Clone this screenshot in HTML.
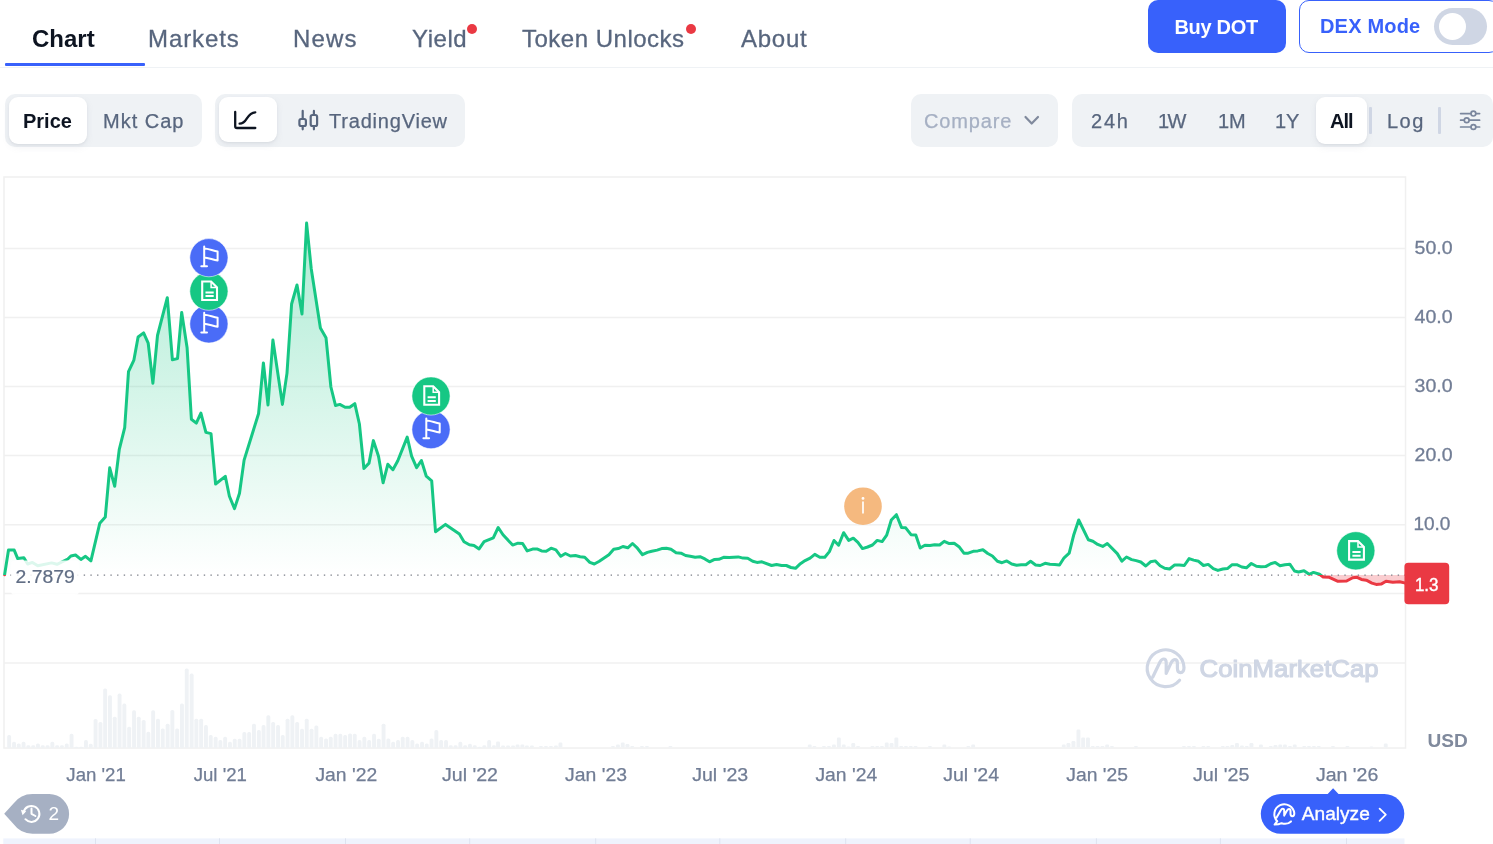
<!DOCTYPE html>
<html lang="en">
<head>
<meta charset="utf-8">
<title>Polkadot (DOT) price chart</title>
<style>
*{box-sizing:border-box;margin:0;padding:0}
html,body{width:1493px;height:844px;overflow:hidden;background:#fff}
body{font-family:"Liberation Sans",sans-serif;color:#0d1421;position:relative}
.abs{position:absolute}
.t{position:absolute;white-space:nowrap;line-height:1}
/* tabs */
.tab{position:absolute;top:27px;font-size:24px;line-height:1;color:#58667e;white-space:nowrap;-webkit-text-stroke:.3px #58667e}
.tab.active{color:#0d1421;font-weight:700;-webkit-text-stroke:0}
.dot{position:absolute;width:10px;height:10px;border-radius:50%;background:#ea3943}
.hline{position:absolute;left:0;top:67px;width:1493px;height:1px;background:#eff2f5}
.uline{position:absolute;left:4.5px;top:63px;width:140.2px;height:3px;background:#3861fb;border-radius:1px}
.btn-buy{position:absolute;left:1148px;top:0;width:138px;height:53px;border-radius:10px;background:#3861fb}
.btn-dex{position:absolute;left:1299px;top:0;width:200px;height:53.2px;border-radius:10px;border:1.5px solid #3861fb;background:#fff}
.toggle{position:absolute;left:1434px;top:8px;width:53px;height:37px;border-radius:19px;background:#cfd6e4}
.knob{position:absolute;left:1438.7px;top:12.7px;width:27.6px;height:27.6px;border-radius:50%;background:#fff}
/* toolbar */
.grp{position:absolute;top:94px;height:53px;border-radius:10px;background:#eff2f5}
.pill{position:absolute;top:97px;height:47px;border-radius:9px;background:#fff;box-shadow:0 1px 2px rgba(128,138,157,.12),0 3px 7px rgba(128,138,157,.12)}
.tb{position:absolute;top:111px;font-size:20px;line-height:1;color:#58667e;white-space:nowrap;-webkit-text-stroke:.25px currentColor}
.tb.sel{color:#0d1421;font-weight:700;-webkit-text-stroke:0}
.vdiv{position:absolute;top:107px;width:2.9px;height:26.6px;background:#cfd6e4;border-radius:1px}
</style>
</head>
<body>
<!-- tabs -->
<div class="tab active" style="left:32px">Chart</div>
<div class="tab" style="left:148px;letter-spacing:.9px">Markets</div>
<div class="tab" style="left:293px;letter-spacing:1.2px">News</div>
<div class="tab" style="left:412px;letter-spacing:.55px">Yield</div>
<div class="dot" style="left:467px;top:24px"></div>
<div class="tab" style="left:522px;letter-spacing:.5px">Token Unlocks</div>
<div class="dot" style="left:686px;top:24px"></div>
<div class="tab" style="left:741px;letter-spacing:.75px">About</div>
<div class="hline"></div>
<div class="uline"></div>
<div class="btn-buy"></div>
<div class="t" style="left:1174.4px;top:17px;font-size:20px;letter-spacing:-.3px;font-weight:700;color:#fff">Buy DOT</div>
<div class="btn-dex"></div>
<div class="t" style="left:1320px;top:16px;font-size:20px;letter-spacing:.18px;font-weight:700;color:#3861fb">DEX Mode</div>
<div class="toggle"></div><div class="knob"></div>

<!-- toolbar -->
<div class="grp" style="left:5px;width:197px"></div>
<div class="pill" style="left:9px;width:78px"></div>
<div class="tb sel" style="left:23px">Price</div>
<div class="tb" style="left:103px;letter-spacing:1px">Mkt Cap</div>

<div class="grp" style="left:215px;width:250px"></div>
<div class="pill" style="left:219px;width:58px;height:45px"></div>
<svg class="abs" style="left:232px;top:108px" width="26" height="24" viewBox="232 108 26 24" fill="none" stroke="#0d1421" stroke-width="2.3" stroke-linecap="round" stroke-linejoin="round">
<path d="M235.2 112V126.2Q235.2 128 237 128H255.3"/><path d="M239.6 123.7C247.8 123.7 246 112.7 255.3 112.3"/>
</svg>
<svg class="abs" style="left:296px;top:108px" width="24" height="24" viewBox="296 108 24 24" fill="none" stroke="#58667e" stroke-width="2.2" stroke-linecap="round" stroke-linejoin="round">
<rect x="299.4" y="119" width="6.5" height="7" rx="1.8"/><path d="M302.7 110.9V119M302.7 126V129.3"/>
<rect x="310.7" y="115" width="6.4" height="11" rx="1.8"/><path d="M313.9 110.9V115M313.9 126V129.3"/>
</svg>
<div class="tb" style="left:329px;letter-spacing:.8px">TradingView</div>

<div class="grp" style="left:911px;width:147px"></div>
<div class="tb" style="left:924px;letter-spacing:.85px;color:#a6b0c3">Compare</div>
<svg class="abs" style="left:1022px;top:112px" width="20" height="16" viewBox="0 0 20 16" fill="none" stroke="#808a9d" stroke-width="2.2" stroke-linecap="round" stroke-linejoin="round"><path d="M3.5 5 L9.7 11.5 L16 5"/></svg>

<div class="grp" style="left:1072px;width:421px"></div>
<div class="tb" style="left:1091px;letter-spacing:1.8px">24h</div>
<div class="tb" style="left:1158px;letter-spacing:-1.5px">1W</div>
<div class="tb" style="left:1218px">1M</div>
<div class="tb" style="left:1275px">1Y</div>
<div class="pill" style="left:1316px;width:51px"></div>
<div class="tb sel" style="left:1330px;letter-spacing:-1px">All</div>
<div class="vdiv" style="left:1369.3px"></div>
<div class="tb" style="left:1387px;letter-spacing:1.5px">Log</div>
<div class="vdiv" style="left:1438px"></div>
<svg class="abs" style="left:1458px;top:108px" width="24" height="24" viewBox="1458 108 24 24" fill="none" stroke="#7a869d" stroke-width="1.7" stroke-linecap="round"><path d="M1460.6 113.6H1470.6M1476.2 113.6H1479.6M1460.6 120.2H1463.9M1469.5 120.2H1479.6M1460.6 127H1470.6M1476.2 127H1479.6"/><circle cx="1473.4" cy="113.6" r="2.4"/><circle cx="1466.7" cy="120.2" r="2.4"/><circle cx="1473.4" cy="127" r="2.4"/></svg>

<!-- chart -->
<svg class="abs" id="chart" style="left:0;top:0" width="1493" height="844" viewBox="0 0 1493 844" font-family="'Liberation Sans',sans-serif">
<defs>
<linearGradient id="gg" gradientUnits="userSpaceOnUse" x1="0" y1="222" x2="0" y2="575.1"><stop offset="0" stop-color="#16c784" stop-opacity=".35"/><stop offset="1" stop-color="#16c784" stop-opacity="0"/></linearGradient>
<clipPath id="up"><rect x="0" y="170" width="1410" height="405.1"/></clipPath>
<clipPath id="dn"><rect x="0" y="575.1" width="1410" height="200"/></clipPath>
</defs>
<g stroke="#f0f0f0" stroke-width="1.5" fill="none">
<path d="M4 248.4H1405.5"/>
<path d="M4 317.4H1405.5"/>
<path d="M4 386.5H1405.5"/>
<path d="M4 455.4H1405.5"/>
<path d="M4 524.7H1405.5"/>
<path d="M4 593.5H1405.5"/>
<path d="M4 663H1405.5"/>
<rect x="4" y="177" width="1401.5" height="571"/>
</g>
<g fill="#eff2f5">
<rect x="7.2" y="735.1" width="3.9" height="12.9" rx="1.6"/>
<rect x="12.1" y="741.8" width="3.9" height="6.2" rx="1.6"/>
<rect x="16.8" y="743.5" width="3.9" height="4.5" rx="1.6"/>
<rect x="21.6" y="741.8" width="3.9" height="6.2" rx="1.6"/>
<rect x="26.4" y="745.2" width="3.9" height="2.8" rx="1.6"/>
<rect x="31.3" y="745.2" width="3.9" height="2.8" rx="1.6"/>
<rect x="36" y="743.5" width="3.9" height="4.5" rx="1.6"/>
<rect x="40.8" y="745.2" width="3.9" height="2.8" rx="1.6"/>
<rect x="45.6" y="745.2" width="3.9" height="2.8" rx="1.6"/>
<rect x="50.4" y="741.8" width="3.9" height="6.2" rx="1.6"/>
<rect x="55.2" y="745.2" width="3.9" height="2.8" rx="1.6"/>
<rect x="60" y="745.2" width="3.9" height="2.8" rx="1.6"/>
<rect x="64.8" y="743.5" width="3.9" height="4.5" rx="1.6"/>
<rect x="69.6" y="733.8" width="3.9" height="14.2" rx="1.6"/>
<rect x="74.5" y="746.8" width="3.9" height="1.2" rx="1.6"/>
<rect x="79.2" y="746.8" width="3.9" height="1.2" rx="1.6"/>
<rect x="84" y="740.1" width="3.9" height="7.9" rx="1.6"/>
<rect x="88.8" y="743.8" width="3.9" height="4.2" rx="1.6"/>
<rect x="93.6" y="718.9" width="3.9" height="29.1" rx="1.6"/>
<rect x="98.5" y="722" width="3.9" height="26" rx="1.6"/>
<rect x="103.2" y="688.5" width="3.9" height="59.5" rx="1.6"/>
<rect x="108" y="695.2" width="3.9" height="52.8" rx="1.6"/>
<rect x="112.8" y="716.7" width="3.9" height="31.3" rx="1.6"/>
<rect x="117.6" y="693.6" width="3.9" height="54.4" rx="1.6"/>
<rect x="122.4" y="703.6" width="3.9" height="44.4" rx="1.6"/>
<rect x="127.2" y="726.7" width="3.9" height="21.3" rx="1.6"/>
<rect x="132.1" y="710.3" width="3.9" height="37.7" rx="1.6"/>
<rect x="136.8" y="716.7" width="3.9" height="31.3" rx="1.6"/>
<rect x="141.7" y="720" width="3.9" height="28" rx="1.6"/>
<rect x="146.4" y="731.8" width="3.9" height="16.2" rx="1.6"/>
<rect x="151.2" y="710.3" width="3.9" height="37.7" rx="1.6"/>
<rect x="156" y="718.7" width="3.9" height="29.3" rx="1.6"/>
<rect x="160.8" y="728.4" width="3.9" height="19.6" rx="1.6"/>
<rect x="165.7" y="723.7" width="3.9" height="24.3" rx="1.6"/>
<rect x="170.4" y="710" width="3.9" height="38" rx="1.6"/>
<rect x="175.2" y="728.4" width="3.9" height="19.6" rx="1.6"/>
<rect x="180" y="703.6" width="3.9" height="44.4" rx="1.6"/>
<rect x="184.8" y="668.6" width="3.9" height="79.4" rx="1.6"/>
<rect x="189.7" y="673.6" width="3.9" height="74.4" rx="1.6"/>
<rect x="194.4" y="718.7" width="3.9" height="29.3" rx="1.6"/>
<rect x="199.2" y="718.7" width="3.9" height="29.3" rx="1.6"/>
<rect x="204" y="725.1" width="3.9" height="22.9" rx="1.6"/>
<rect x="208.8" y="735.1" width="3.9" height="12.9" rx="1.6"/>
<rect x="213.7" y="736.8" width="3.9" height="11.2" rx="1.6"/>
<rect x="218.4" y="740.1" width="3.9" height="7.9" rx="1.6"/>
<rect x="223.2" y="736.8" width="3.9" height="11.2" rx="1.6"/>
<rect x="228" y="741.8" width="3.9" height="6.2" rx="1.6"/>
<rect x="232.8" y="738.8" width="3.9" height="9.2" rx="1.6"/>
<rect x="237.6" y="738.8" width="3.9" height="9.2" rx="1.6"/>
<rect x="242.4" y="732.1" width="3.9" height="15.9" rx="1.6"/>
<rect x="247.2" y="732.1" width="3.9" height="15.9" rx="1.6"/>
<rect x="252" y="723.7" width="3.9" height="24.3" rx="1.6"/>
<rect x="256.9" y="730.1" width="3.9" height="17.9" rx="1.6"/>
<rect x="261.6" y="725.1" width="3.9" height="22.9" rx="1.6"/>
<rect x="266.4" y="715.3" width="3.9" height="32.7" rx="1.6"/>
<rect x="271.2" y="722" width="3.9" height="26" rx="1.6"/>
<rect x="276.1" y="725.1" width="3.9" height="22.9" rx="1.6"/>
<rect x="280.8" y="735.1" width="3.9" height="12.9" rx="1.6"/>
<rect x="285.6" y="718.7" width="3.9" height="29.3" rx="1.6"/>
<rect x="290.4" y="715.3" width="3.9" height="32.7" rx="1.6"/>
<rect x="295.2" y="722" width="3.9" height="26" rx="1.6"/>
<rect x="300.1" y="728.7" width="3.9" height="19.3" rx="1.6"/>
<rect x="304.8" y="718.7" width="3.9" height="29.3" rx="1.6"/>
<rect x="309.6" y="728.7" width="3.9" height="19.3" rx="1.6"/>
<rect x="314.4" y="725.4" width="3.9" height="22.6" rx="1.6"/>
<rect x="319.2" y="736.8" width="3.9" height="11.2" rx="1.6"/>
<rect x="324.1" y="738.5" width="3.9" height="9.5" rx="1.6"/>
<rect x="328.8" y="736.8" width="3.9" height="11.2" rx="1.6"/>
<rect x="333.6" y="733.8" width="3.9" height="14.2" rx="1.6"/>
<rect x="338.4" y="733.8" width="3.9" height="14.2" rx="1.6"/>
<rect x="343.2" y="735.1" width="3.9" height="12.9" rx="1.6"/>
<rect x="348.1" y="733.4" width="3.9" height="14.6" rx="1.6"/>
<rect x="352.8" y="733.8" width="3.9" height="14.2" rx="1.6"/>
<rect x="357.6" y="740.1" width="3.9" height="7.9" rx="1.6"/>
<rect x="362.4" y="736.8" width="3.9" height="11.2" rx="1.6"/>
<rect x="367.2" y="740.1" width="3.9" height="7.9" rx="1.6"/>
<rect x="372.1" y="733.8" width="3.9" height="14.2" rx="1.6"/>
<rect x="376.8" y="738.8" width="3.9" height="9.2" rx="1.6"/>
<rect x="381.6" y="723.7" width="3.9" height="24.3" rx="1.6"/>
<rect x="386.4" y="738.5" width="3.9" height="9.5" rx="1.6"/>
<rect x="391.2" y="741.8" width="3.9" height="6.2" rx="1.6"/>
<rect x="396.1" y="740.1" width="3.9" height="7.9" rx="1.6"/>
<rect x="400.8" y="736.8" width="3.9" height="11.2" rx="1.6"/>
<rect x="405.6" y="736.8" width="3.9" height="11.2" rx="1.6"/>
<rect x="410.4" y="740.1" width="3.9" height="7.9" rx="1.6"/>
<rect x="415.2" y="743.5" width="3.9" height="4.5" rx="1.6"/>
<rect x="420.1" y="741.8" width="3.9" height="6.2" rx="1.6"/>
<rect x="424.8" y="743.5" width="3.9" height="4.5" rx="1.6"/>
<rect x="429.6" y="738.5" width="3.9" height="9.5" rx="1.6"/>
<rect x="434.4" y="730.1" width="3.9" height="17.9" rx="1.6"/>
<rect x="439.2" y="740.1" width="3.9" height="7.9" rx="1.6"/>
<rect x="444.1" y="740.1" width="3.9" height="7.9" rx="1.6"/>
<rect x="448.8" y="745.2" width="3.9" height="2.8" rx="1.6"/>
<rect x="453.6" y="745.2" width="3.9" height="2.8" rx="1.6"/>
<rect x="458.4" y="741.8" width="3.9" height="6.2" rx="1.6"/>
<rect x="463.2" y="745.2" width="3.9" height="2.8" rx="1.6"/>
<rect x="468" y="743.8" width="3.9" height="4.2" rx="1.6"/>
<rect x="472.8" y="745.2" width="3.9" height="2.8" rx="1.6"/>
<rect x="477.6" y="746.8" width="3.9" height="1.2" rx="1.6"/>
<rect x="482.4" y="745.2" width="3.9" height="2.8" rx="1.6"/>
<rect x="487.2" y="740.1" width="3.9" height="7.9" rx="1.6"/>
<rect x="492" y="745.2" width="3.9" height="2.8" rx="1.6"/>
<rect x="496.1" y="741.5" width="3.9" height="6" rx="1.2"/>
<rect x="501.1" y="745.5" width="3.9" height="2" rx="1.2"/>
<rect x="506.1" y="745.5" width="3.9" height="2" rx="1.2"/>
<rect x="511.1" y="745.5" width="3.9" height="2" rx="1.2"/>
<rect x="515.6" y="744.5" width="3.9" height="3" rx="1.2"/>
<rect x="520.4" y="744.5" width="3.9" height="3" rx="1.2"/>
<rect x="525" y="745.5" width="3.9" height="2" rx="1.2"/>
<rect x="530" y="745.5" width="3.9" height="2" rx="1.2"/>
<rect x="539" y="746" width="3.9" height="1.5" rx="1.2"/>
<rect x="544" y="746" width="3.9" height="1.5" rx="1.2"/>
<rect x="549" y="746" width="3.9" height="1.5" rx="1.2"/>
<rect x="554" y="745.5" width="3.9" height="2" rx="1.2"/>
<rect x="558.5" y="742.5" width="3.9" height="5" rx="1.2"/>
<rect x="611" y="746" width="3.9" height="1.5" rx="1.2"/>
<rect x="616" y="744.5" width="3.9" height="3" rx="1.2"/>
<rect x="620.8" y="742.5" width="3.9" height="5" rx="1.2"/>
<rect x="625.5" y="744" width="3.9" height="3.5" rx="1.2"/>
<rect x="630.3" y="746" width="3.9" height="1.5" rx="1.2"/>
<rect x="640" y="746" width="3.9" height="1.5" rx="1.2"/>
<rect x="645" y="746" width="3.9" height="1.5" rx="1.2"/>
<rect x="668.5" y="746" width="3.9" height="1.5" rx="1.2"/>
<rect x="807.8" y="744.5" width="3.9" height="3" rx="1.2"/>
<rect x="812.5" y="746" width="3.9" height="1.5" rx="1.2"/>
<rect x="822" y="746" width="3.9" height="1.5" rx="1.2"/>
<rect x="827" y="746" width="3.9" height="1.5" rx="1.2"/>
<rect x="832" y="744.5" width="3.9" height="3" rx="1.2"/>
<rect x="836.9" y="737.5" width="3.9" height="10" rx="1.2"/>
<rect x="841.8" y="744.5" width="3.9" height="3" rx="1.2"/>
<rect x="846.5" y="746.5" width="3.9" height="1" rx="1.2"/>
<rect x="851.3" y="743" width="3.9" height="4.5" rx="1.2"/>
<rect x="856.1" y="746" width="3.9" height="1.5" rx="1.2"/>
<rect x="870.5" y="746" width="3.9" height="1.5" rx="1.2"/>
<rect x="875.3" y="746" width="3.9" height="1.5" rx="1.2"/>
<rect x="880" y="746" width="3.9" height="1.5" rx="1.2"/>
<rect x="884.8" y="742.5" width="3.9" height="5" rx="1.2"/>
<rect x="889.6" y="743" width="3.9" height="4.5" rx="1.2"/>
<rect x="894.4" y="737.5" width="3.9" height="10" rx="1.2"/>
<rect x="899.2" y="746" width="3.9" height="1.5" rx="1.2"/>
<rect x="904" y="746" width="3.9" height="1.5" rx="1.2"/>
<rect x="908.8" y="746" width="3.9" height="1.5" rx="1.2"/>
<rect x="913.6" y="746" width="3.9" height="1.5" rx="1.2"/>
<rect x="928" y="746" width="3.9" height="1.5" rx="1.2"/>
<rect x="942.4" y="744.5" width="3.9" height="3" rx="1.2"/>
<rect x="947.2" y="746.5" width="3.9" height="1" rx="1.2"/>
<rect x="966.4" y="746" width="3.9" height="1.5" rx="1.2"/>
<rect x="971.2" y="744.5" width="3.9" height="3" rx="1.2"/>
<rect x="1061.8" y="744.5" width="3.9" height="3" rx="1.2"/>
<rect x="1066.5" y="743" width="3.9" height="4.5" rx="1.2"/>
<rect x="1071.5" y="741" width="3.9" height="6.5" rx="1.2"/>
<rect x="1076.5" y="729.5" width="3.9" height="18" rx="1.2"/>
<rect x="1081.2" y="737.5" width="3.9" height="10" rx="1.2"/>
<rect x="1086" y="737.5" width="3.9" height="10" rx="1.2"/>
<rect x="1090.8" y="746" width="3.9" height="1.5" rx="1.2"/>
<rect x="1095.6" y="746" width="3.9" height="1.5" rx="1.2"/>
<rect x="1100.5" y="746" width="3.9" height="1.5" rx="1.2"/>
<rect x="1105.2" y="744.5" width="3.9" height="3" rx="1.2"/>
<rect x="1110" y="746" width="3.9" height="1.5" rx="1.2"/>
<rect x="1134" y="746" width="3.9" height="1.5" rx="1.2"/>
<rect x="1182" y="746" width="3.9" height="1.5" rx="1.2"/>
<rect x="1187" y="746" width="3.9" height="1.5" rx="1.2"/>
<rect x="1192" y="746" width="3.9" height="1.5" rx="1.2"/>
<rect x="1201.5" y="746" width="3.9" height="1.5" rx="1.2"/>
<rect x="1206.3" y="746" width="3.9" height="1.5" rx="1.2"/>
<rect x="1220.8" y="746" width="3.9" height="1.5" rx="1.2"/>
<rect x="1225.5" y="746" width="3.9" height="1.5" rx="1.2"/>
<rect x="1230.3" y="745" width="3.9" height="2.5" rx="1.2"/>
<rect x="1235" y="743" width="3.9" height="4.5" rx="1.2"/>
<rect x="1240" y="745.5" width="3.9" height="2" rx="1.2"/>
<rect x="1244.8" y="746" width="3.9" height="1.5" rx="1.2"/>
<rect x="1249.5" y="743" width="3.9" height="4.5" rx="1.2"/>
<rect x="1259" y="744.5" width="3.9" height="3" rx="1.2"/>
<rect x="1268.8" y="746" width="3.9" height="1.5" rx="1.2"/>
<rect x="1273.5" y="745" width="3.9" height="2.5" rx="1.2"/>
<rect x="1278.3" y="744.5" width="3.9" height="3" rx="1.2"/>
<rect x="1283" y="744.5" width="3.9" height="3" rx="1.2"/>
<rect x="1288" y="746" width="3.9" height="1.5" rx="1.2"/>
<rect x="1292.8" y="744.5" width="3.9" height="3" rx="1.2"/>
<rect x="1302.3" y="746" width="3.9" height="1.5" rx="1.2"/>
<rect x="1307" y="746" width="3.9" height="1.5" rx="1.2"/>
<rect x="1312" y="746" width="3.9" height="1.5" rx="1.2"/>
<rect x="1316.8" y="746" width="3.9" height="1.5" rx="1.2"/>
<rect x="1331" y="746" width="3.9" height="1.5" rx="1.2"/>
<rect x="1345.5" y="746" width="3.9" height="1.5" rx="1.2"/>
<rect x="1369.5" y="746.5" width="3.9" height="1" rx="1.2"/>
<rect x="1383.8" y="743.5" width="3.9" height="4" rx="1.2"/>
</g>
<g id="wm" fill="none" stroke="#cfd6e4" stroke-width="3.2" stroke-linecap="round" stroke-linejoin="round">
<path d="M1179.6 680.2 A18.4 18.4 0 1 1 1184 667.6 C1184 671 1182.6 672.6 1180.6 672.6 C1178.6 672.6 1177.4 671 1177.4 668 L1177.4 663 C1177.4 660.6 1176.2 659.6 1174.8 659.6 C1173.4 659.6 1172.4 660.6 1171.2 662.6 L1166.2 673.4 L1166.2 662.6 C1166.2 660.2 1165 659 1163.6 659 C1162.2 659 1161.2 660 1160 662 L1152.8 677"/>
</g>
<text x="1199.6" y="676.8" font-size="24" font-weight="400" fill="#cfd6e4" stroke="#cfd6e4" stroke-width="1.15" stroke-linejoin="round" textLength="179" lengthAdjust="spacingAndGlyphs">CoinMarketCap</text>
<path d="M4.6,575.1 L4.6,574.8 L8.5,550.1 L14.2,550.1 L17.7,558.6 L23.9,557.8 L27.7,564 L32.4,562.4 L37.8,565.8 L51.6,562.9 L57,564.3 L67.8,559 L70.9,556 L75.5,555 L80.9,559.4 L85.5,556.3 L90.9,560.9 L99.8,523.2 L105.3,517 L109.7,467.8 L114.7,486.3 L119.3,449.3 L124.7,427.7 L128.5,371.7 L133.9,360.1 L138.1,337 L143.6,332.9 L148.2,343.2 L152.9,383.2 L157.5,335.5 L167.3,297.7 L172.4,359.8 L177.5,358.6 L181.7,312.4 L187.1,347.8 L191.4,419.3 L196.3,423.1 L200.9,413.1 L205.9,432.4 L211,433.6 L215.6,484 L225.3,476.3 L229.4,496.3 L234.5,508.6 L239.5,493.2 L244.1,460.1 L258.6,413.5 L263.4,362.9 L268,405 L272.9,340 L282.4,404.4 L287,373.1 L291.6,304 L297,285 L302,314 L306.6,223.1 L311.2,268.5 L320.4,327.9 L326,337.7 L330.9,387 L335.5,405.5 L339.8,404.4 L345.1,407.3 L349.7,407.3 L354.8,403.7 L359.4,424 L363.9,468.5 L369,463.1 L373.4,440.6 L378.5,456.2 L383.1,482.8 L387.8,464.3 L392.9,469.7 L397.8,460.8 L407.2,437.1 L411.6,456.2 L416.6,467.7 L421.4,460.5 L426.3,476.2 L431.7,480.8 L435.5,531.7 L445.5,524.4 L459.4,534 L464,541.7 L469.4,544.8 L474,545.5 L479.1,548.9 L484.1,541.7 L493.3,537.8 L498.2,527.5 L503,534.8 L512.6,545.1 L518,543.2 L522.6,543.5 L527.2,550.9 L532.6,549.1 L536.9,548.9 L541.6,550.9 L546.2,551.3 L551.1,548.2 L555.9,549.8 L560.8,556.3 L565.4,553.5 L570.4,556 L575.5,555.5 L580.1,556.7 L584.7,557.3 L589.8,562.4 L594.3,564 L599.3,561.2 L608.9,554.7 L613.7,549.3 L618.3,548.6 L622.9,546.5 L627.8,547.8 L632.5,543.5 L637.4,548.2 L642.5,554.7 L647.4,552.4 L651.7,551.2 L657.1,550.1 L661.7,548.6 L666.4,548.2 L671,549.3 L676.1,552.7 L681,553.2 L685.6,555.5 L690.2,556.3 L695.2,557.2 L700,556.7 L704.9,558.9 L709.5,561.8 L714.1,559.6 L718.8,559.3 L723.6,557.3 L729.2,557.5 L738.2,556.9 L743.1,558.1 L747.7,558.3 L752.7,561.2 L757,562.4 L761.9,561.8 L771.6,565.5 L776.5,564.6 L781.6,565.5 L786.3,565.5 L790.9,567.5 L795.5,568.3 L800.4,563.7 L805.1,560.6 L810.1,558.1 L814.8,554.4 L819.8,557.3 L824.8,557.3 L829.4,551.6 L834,540.5 L838.6,545.2 L843.6,532.7 L848.7,540.4 L853.3,538.2 L857.9,542.4 L862.5,548.6 L867.6,547 L872.5,545 L877.2,540.4 L882.1,541.6 L886.7,535.1 L891.3,520 L896.4,514.7 L901.5,527.4 L905.7,527.8 L911,534.7 L915.8,535 L920.2,548 L924.9,545.2 L930,545.5 L934.7,544.7 L939.6,545 L944.2,541.3 L949.3,543.6 L954.2,543.2 L959,546.7 L963.9,553.2 L968.2,553.2 L973.2,551.3 L977.8,550.9 L982.9,549.8 L987.8,553.5 L992.4,556 L997.4,561.3 L1002,562.7 L1006.8,560.9 L1011.7,564 L1016.6,565.2 L1021.2,564.7 L1025.9,564.7 L1030.6,561.3 L1035.6,565 L1040.2,565.5 L1045.1,563.3 L1049.9,564.3 L1054.8,564.4 L1059.5,565 L1064.1,557.8 L1069.2,553.2 L1073.8,534.7 L1078.7,520 L1088.4,539.8 L1092.9,541.2 L1097.7,544.4 L1102.7,546.4 L1107.3,543.5 L1117.3,553.6 L1121.9,561.2 L1126.5,557 L1131.6,559.6 L1136.2,560.6 L1140.8,562 L1145.8,566 L1150.5,561.8 L1155.2,560.9 L1160.1,565.8 L1164.7,568.3 L1169.6,569 L1174.7,564.9 L1179.4,564.9 L1184.3,565.5 L1189.1,558.6 L1193.7,560.1 L1198.6,561.3 L1203.5,565.5 L1208.2,564.4 L1213.3,568.6 L1217.9,570.4 L1222.8,569 L1227.4,568.6 L1232.2,564.7 L1236.8,564.7 L1241.8,567 L1246.4,567.8 L1251.3,563.5 L1256.4,566.3 L1261,566.7 L1265.6,566.6 L1270.7,563.7 L1275.2,562.4 L1280,565.7 L1284.9,564.7 L1289.8,564.2 L1294.5,571 L1298.5,572 L1304,570.8 L1309.2,574.3 L1313.5,572.4 L1319.5,574.3 L1323.2,577 L1329.3,577.3 L1338,581.3 L1346.6,581 L1352.7,577.7 L1357.1,577.3 L1361.4,579.4 L1366.3,580.2 L1371.9,583.1 L1376.2,584.4 L1381.1,584.1 L1386,581.3 L1392.8,582.3 L1399.6,581.7 L1404.5,582.9 L1404.5,575.1 Z" fill="url(#gg)" clip-path="url(#up)"/>
<path d="M4.6,575.1 L4.6,574.8 L8.5,550.1 L14.2,550.1 L17.7,558.6 L23.9,557.8 L27.7,564 L32.4,562.4 L37.8,565.8 L51.6,562.9 L57,564.3 L67.8,559 L70.9,556 L75.5,555 L80.9,559.4 L85.5,556.3 L90.9,560.9 L99.8,523.2 L105.3,517 L109.7,467.8 L114.7,486.3 L119.3,449.3 L124.7,427.7 L128.5,371.7 L133.9,360.1 L138.1,337 L143.6,332.9 L148.2,343.2 L152.9,383.2 L157.5,335.5 L167.3,297.7 L172.4,359.8 L177.5,358.6 L181.7,312.4 L187.1,347.8 L191.4,419.3 L196.3,423.1 L200.9,413.1 L205.9,432.4 L211,433.6 L215.6,484 L225.3,476.3 L229.4,496.3 L234.5,508.6 L239.5,493.2 L244.1,460.1 L258.6,413.5 L263.4,362.9 L268,405 L272.9,340 L282.4,404.4 L287,373.1 L291.6,304 L297,285 L302,314 L306.6,223.1 L311.2,268.5 L320.4,327.9 L326,337.7 L330.9,387 L335.5,405.5 L339.8,404.4 L345.1,407.3 L349.7,407.3 L354.8,403.7 L359.4,424 L363.9,468.5 L369,463.1 L373.4,440.6 L378.5,456.2 L383.1,482.8 L387.8,464.3 L392.9,469.7 L397.8,460.8 L407.2,437.1 L411.6,456.2 L416.6,467.7 L421.4,460.5 L426.3,476.2 L431.7,480.8 L435.5,531.7 L445.5,524.4 L459.4,534 L464,541.7 L469.4,544.8 L474,545.5 L479.1,548.9 L484.1,541.7 L493.3,537.8 L498.2,527.5 L503,534.8 L512.6,545.1 L518,543.2 L522.6,543.5 L527.2,550.9 L532.6,549.1 L536.9,548.9 L541.6,550.9 L546.2,551.3 L551.1,548.2 L555.9,549.8 L560.8,556.3 L565.4,553.5 L570.4,556 L575.5,555.5 L580.1,556.7 L584.7,557.3 L589.8,562.4 L594.3,564 L599.3,561.2 L608.9,554.7 L613.7,549.3 L618.3,548.6 L622.9,546.5 L627.8,547.8 L632.5,543.5 L637.4,548.2 L642.5,554.7 L647.4,552.4 L651.7,551.2 L657.1,550.1 L661.7,548.6 L666.4,548.2 L671,549.3 L676.1,552.7 L681,553.2 L685.6,555.5 L690.2,556.3 L695.2,557.2 L700,556.7 L704.9,558.9 L709.5,561.8 L714.1,559.6 L718.8,559.3 L723.6,557.3 L729.2,557.5 L738.2,556.9 L743.1,558.1 L747.7,558.3 L752.7,561.2 L757,562.4 L761.9,561.8 L771.6,565.5 L776.5,564.6 L781.6,565.5 L786.3,565.5 L790.9,567.5 L795.5,568.3 L800.4,563.7 L805.1,560.6 L810.1,558.1 L814.8,554.4 L819.8,557.3 L824.8,557.3 L829.4,551.6 L834,540.5 L838.6,545.2 L843.6,532.7 L848.7,540.4 L853.3,538.2 L857.9,542.4 L862.5,548.6 L867.6,547 L872.5,545 L877.2,540.4 L882.1,541.6 L886.7,535.1 L891.3,520 L896.4,514.7 L901.5,527.4 L905.7,527.8 L911,534.7 L915.8,535 L920.2,548 L924.9,545.2 L930,545.5 L934.7,544.7 L939.6,545 L944.2,541.3 L949.3,543.6 L954.2,543.2 L959,546.7 L963.9,553.2 L968.2,553.2 L973.2,551.3 L977.8,550.9 L982.9,549.8 L987.8,553.5 L992.4,556 L997.4,561.3 L1002,562.7 L1006.8,560.9 L1011.7,564 L1016.6,565.2 L1021.2,564.7 L1025.9,564.7 L1030.6,561.3 L1035.6,565 L1040.2,565.5 L1045.1,563.3 L1049.9,564.3 L1054.8,564.4 L1059.5,565 L1064.1,557.8 L1069.2,553.2 L1073.8,534.7 L1078.7,520 L1088.4,539.8 L1092.9,541.2 L1097.7,544.4 L1102.7,546.4 L1107.3,543.5 L1117.3,553.6 L1121.9,561.2 L1126.5,557 L1131.6,559.6 L1136.2,560.6 L1140.8,562 L1145.8,566 L1150.5,561.8 L1155.2,560.9 L1160.1,565.8 L1164.7,568.3 L1169.6,569 L1174.7,564.9 L1179.4,564.9 L1184.3,565.5 L1189.1,558.6 L1193.7,560.1 L1198.6,561.3 L1203.5,565.5 L1208.2,564.4 L1213.3,568.6 L1217.9,570.4 L1222.8,569 L1227.4,568.6 L1232.2,564.7 L1236.8,564.7 L1241.8,567 L1246.4,567.8 L1251.3,563.5 L1256.4,566.3 L1261,566.7 L1265.6,566.6 L1270.7,563.7 L1275.2,562.4 L1280,565.7 L1284.9,564.7 L1289.8,564.2 L1294.5,571 L1298.5,572 L1304,570.8 L1309.2,574.3 L1313.5,572.4 L1319.5,574.3 L1323.2,577 L1329.3,577.3 L1338,581.3 L1346.6,581 L1352.7,577.7 L1357.1,577.3 L1361.4,579.4 L1366.3,580.2 L1371.9,583.1 L1376.2,584.4 L1381.1,584.1 L1386,581.3 L1392.8,582.3 L1399.6,581.7 L1404.5,582.9 L1404.5,575.1 Z" fill="#ea3943" fill-opacity=".25" clip-path="url(#dn)"/>
<path d="M10.33 575.1H1405.5" stroke="#7b7f88" stroke-width="1.4" stroke-dasharray="1.4 5.27" fill="none"/>
<polyline points="4.6,574.8 8.5,550.1 14.2,550.1 17.7,558.6 23.9,557.8 27.7,564 32.4,562.4 37.8,565.8 51.6,562.9 57,564.3 67.8,559 70.9,556 75.5,555 80.9,559.4 85.5,556.3 90.9,560.9 99.8,523.2 105.3,517 109.7,467.8 114.7,486.3 119.3,449.3 124.7,427.7 128.5,371.7 133.9,360.1 138.1,337 143.6,332.9 148.2,343.2 152.9,383.2 157.5,335.5 167.3,297.7 172.4,359.8 177.5,358.6 181.7,312.4 187.1,347.8 191.4,419.3 196.3,423.1 200.9,413.1 205.9,432.4 211,433.6 215.6,484 225.3,476.3 229.4,496.3 234.5,508.6 239.5,493.2 244.1,460.1 258.6,413.5 263.4,362.9 268,405 272.9,340 282.4,404.4 287,373.1 291.6,304 297,285 302,314 306.6,223.1 311.2,268.5 320.4,327.9 326,337.7 330.9,387 335.5,405.5 339.8,404.4 345.1,407.3 349.7,407.3 354.8,403.7 359.4,424 363.9,468.5 369,463.1 373.4,440.6 378.5,456.2 383.1,482.8 387.8,464.3 392.9,469.7 397.8,460.8 407.2,437.1 411.6,456.2 416.6,467.7 421.4,460.5 426.3,476.2 431.7,480.8 435.5,531.7 445.5,524.4 459.4,534 464,541.7 469.4,544.8 474,545.5 479.1,548.9 484.1,541.7 493.3,537.8 498.2,527.5 503,534.8 512.6,545.1 518,543.2 522.6,543.5 527.2,550.9 532.6,549.1 536.9,548.9 541.6,550.9 546.2,551.3 551.1,548.2 555.9,549.8 560.8,556.3 565.4,553.5 570.4,556 575.5,555.5 580.1,556.7 584.7,557.3 589.8,562.4 594.3,564 599.3,561.2 608.9,554.7 613.7,549.3 618.3,548.6 622.9,546.5 627.8,547.8 632.5,543.5 637.4,548.2 642.5,554.7 647.4,552.4 651.7,551.2 657.1,550.1 661.7,548.6 666.4,548.2 671,549.3 676.1,552.7 681,553.2 685.6,555.5 690.2,556.3 695.2,557.2 700,556.7 704.9,558.9 709.5,561.8 714.1,559.6 718.8,559.3 723.6,557.3 729.2,557.5 738.2,556.9 743.1,558.1 747.7,558.3 752.7,561.2 757,562.4 761.9,561.8 771.6,565.5 776.5,564.6 781.6,565.5 786.3,565.5 790.9,567.5 795.5,568.3 800.4,563.7 805.1,560.6 810.1,558.1 814.8,554.4 819.8,557.3 824.8,557.3 829.4,551.6 834,540.5 838.6,545.2 843.6,532.7 848.7,540.4 853.3,538.2 857.9,542.4 862.5,548.6 867.6,547 872.5,545 877.2,540.4 882.1,541.6 886.7,535.1 891.3,520 896.4,514.7 901.5,527.4 905.7,527.8 911,534.7 915.8,535 920.2,548 924.9,545.2 930,545.5 934.7,544.7 939.6,545 944.2,541.3 949.3,543.6 954.2,543.2 959,546.7 963.9,553.2 968.2,553.2 973.2,551.3 977.8,550.9 982.9,549.8 987.8,553.5 992.4,556 997.4,561.3 1002,562.7 1006.8,560.9 1011.7,564 1016.6,565.2 1021.2,564.7 1025.9,564.7 1030.6,561.3 1035.6,565 1040.2,565.5 1045.1,563.3 1049.9,564.3 1054.8,564.4 1059.5,565 1064.1,557.8 1069.2,553.2 1073.8,534.7 1078.7,520 1088.4,539.8 1092.9,541.2 1097.7,544.4 1102.7,546.4 1107.3,543.5 1117.3,553.6 1121.9,561.2 1126.5,557 1131.6,559.6 1136.2,560.6 1140.8,562 1145.8,566 1150.5,561.8 1155.2,560.9 1160.1,565.8 1164.7,568.3 1169.6,569 1174.7,564.9 1179.4,564.9 1184.3,565.5 1189.1,558.6 1193.7,560.1 1198.6,561.3 1203.5,565.5 1208.2,564.4 1213.3,568.6 1217.9,570.4 1222.8,569 1227.4,568.6 1232.2,564.7 1236.8,564.7 1241.8,567 1246.4,567.8 1251.3,563.5 1256.4,566.3 1261,566.7 1265.6,566.6 1270.7,563.7 1275.2,562.4 1280,565.7 1284.9,564.7 1289.8,564.2 1294.5,571 1298.5,572 1304,570.8 1309.2,574.3 1313.5,572.4 1319.5,574.3 1323.2,577 1329.3,577.3 1338,581.3 1346.6,581 1352.7,577.7 1357.1,577.3 1361.4,579.4 1366.3,580.2 1371.9,583.1 1376.2,584.4 1381.1,584.1 1386,581.3 1392.8,582.3 1399.6,581.7 1404.5,582.9" fill="none" stroke="#16c784" stroke-width="3" stroke-linejoin="round" stroke-linecap="round" clip-path="url(#up)"/>
<polyline points="4.6,574.8 8.5,550.1 14.2,550.1 17.7,558.6 23.9,557.8 27.7,564 32.4,562.4 37.8,565.8 51.6,562.9 57,564.3 67.8,559 70.9,556 75.5,555 80.9,559.4 85.5,556.3 90.9,560.9 99.8,523.2 105.3,517 109.7,467.8 114.7,486.3 119.3,449.3 124.7,427.7 128.5,371.7 133.9,360.1 138.1,337 143.6,332.9 148.2,343.2 152.9,383.2 157.5,335.5 167.3,297.7 172.4,359.8 177.5,358.6 181.7,312.4 187.1,347.8 191.4,419.3 196.3,423.1 200.9,413.1 205.9,432.4 211,433.6 215.6,484 225.3,476.3 229.4,496.3 234.5,508.6 239.5,493.2 244.1,460.1 258.6,413.5 263.4,362.9 268,405 272.9,340 282.4,404.4 287,373.1 291.6,304 297,285 302,314 306.6,223.1 311.2,268.5 320.4,327.9 326,337.7 330.9,387 335.5,405.5 339.8,404.4 345.1,407.3 349.7,407.3 354.8,403.7 359.4,424 363.9,468.5 369,463.1 373.4,440.6 378.5,456.2 383.1,482.8 387.8,464.3 392.9,469.7 397.8,460.8 407.2,437.1 411.6,456.2 416.6,467.7 421.4,460.5 426.3,476.2 431.7,480.8 435.5,531.7 445.5,524.4 459.4,534 464,541.7 469.4,544.8 474,545.5 479.1,548.9 484.1,541.7 493.3,537.8 498.2,527.5 503,534.8 512.6,545.1 518,543.2 522.6,543.5 527.2,550.9 532.6,549.1 536.9,548.9 541.6,550.9 546.2,551.3 551.1,548.2 555.9,549.8 560.8,556.3 565.4,553.5 570.4,556 575.5,555.5 580.1,556.7 584.7,557.3 589.8,562.4 594.3,564 599.3,561.2 608.9,554.7 613.7,549.3 618.3,548.6 622.9,546.5 627.8,547.8 632.5,543.5 637.4,548.2 642.5,554.7 647.4,552.4 651.7,551.2 657.1,550.1 661.7,548.6 666.4,548.2 671,549.3 676.1,552.7 681,553.2 685.6,555.5 690.2,556.3 695.2,557.2 700,556.7 704.9,558.9 709.5,561.8 714.1,559.6 718.8,559.3 723.6,557.3 729.2,557.5 738.2,556.9 743.1,558.1 747.7,558.3 752.7,561.2 757,562.4 761.9,561.8 771.6,565.5 776.5,564.6 781.6,565.5 786.3,565.5 790.9,567.5 795.5,568.3 800.4,563.7 805.1,560.6 810.1,558.1 814.8,554.4 819.8,557.3 824.8,557.3 829.4,551.6 834,540.5 838.6,545.2 843.6,532.7 848.7,540.4 853.3,538.2 857.9,542.4 862.5,548.6 867.6,547 872.5,545 877.2,540.4 882.1,541.6 886.7,535.1 891.3,520 896.4,514.7 901.5,527.4 905.7,527.8 911,534.7 915.8,535 920.2,548 924.9,545.2 930,545.5 934.7,544.7 939.6,545 944.2,541.3 949.3,543.6 954.2,543.2 959,546.7 963.9,553.2 968.2,553.2 973.2,551.3 977.8,550.9 982.9,549.8 987.8,553.5 992.4,556 997.4,561.3 1002,562.7 1006.8,560.9 1011.7,564 1016.6,565.2 1021.2,564.7 1025.9,564.7 1030.6,561.3 1035.6,565 1040.2,565.5 1045.1,563.3 1049.9,564.3 1054.8,564.4 1059.5,565 1064.1,557.8 1069.2,553.2 1073.8,534.7 1078.7,520 1088.4,539.8 1092.9,541.2 1097.7,544.4 1102.7,546.4 1107.3,543.5 1117.3,553.6 1121.9,561.2 1126.5,557 1131.6,559.6 1136.2,560.6 1140.8,562 1145.8,566 1150.5,561.8 1155.2,560.9 1160.1,565.8 1164.7,568.3 1169.6,569 1174.7,564.9 1179.4,564.9 1184.3,565.5 1189.1,558.6 1193.7,560.1 1198.6,561.3 1203.5,565.5 1208.2,564.4 1213.3,568.6 1217.9,570.4 1222.8,569 1227.4,568.6 1232.2,564.7 1236.8,564.7 1241.8,567 1246.4,567.8 1251.3,563.5 1256.4,566.3 1261,566.7 1265.6,566.6 1270.7,563.7 1275.2,562.4 1280,565.7 1284.9,564.7 1289.8,564.2 1294.5,571 1298.5,572 1304,570.8 1309.2,574.3 1313.5,572.4 1319.5,574.3 1323.2,577 1329.3,577.3 1338,581.3 1346.6,581 1352.7,577.7 1357.1,577.3 1361.4,579.4 1366.3,580.2 1371.9,583.1 1376.2,584.4 1381.1,584.1 1386,581.3 1392.8,582.3 1399.6,581.7 1404.5,582.9" fill="none" stroke="#ea3943" stroke-width="3" stroke-linejoin="round" stroke-linecap="round" clip-path="url(#dn)"/>
<rect x="11" y="560.5" width="68" height="34.5" rx="4" fill="#fff" fill-opacity=".85"/>
<text x="15.5" y="583" font-size="18" fill="#616e85" stroke="#616e85" stroke-width=".2" textLength="59.3" lengthAdjust="spacingAndGlyphs">2.7879</text>
<g font-size="18" fill="#717d95" stroke="#717d95" stroke-width=".3">
<text x="1414.6" y="254" textLength="38" lengthAdjust="spacingAndGlyphs">50.0</text>
<text x="1414.6" y="323" textLength="38" lengthAdjust="spacingAndGlyphs">40.0</text>
<text x="1414.6" y="392" textLength="38" lengthAdjust="spacingAndGlyphs">30.0</text>
<text x="1414.6" y="461" textLength="38" lengthAdjust="spacingAndGlyphs">20.0</text>
<text x="1413.4" y="530.1" textLength="37" lengthAdjust="spacingAndGlyphs">10.0</text>
</g>
<rect x="1404.4" y="562.7" width="44.8" height="41.5" rx="4" fill="#ea3943"/>
<text x="1414.9" y="590.8" font-size="18" fill="#fff" stroke="#fff" stroke-width=".4" textLength="23.6" lengthAdjust="spacingAndGlyphs">1.3</text>
<text x="1427.4" y="747" font-size="18.5" font-weight="700" fill="#808a9d" textLength="40.3" lengthAdjust="spacingAndGlyphs">USD</text>
<g font-size="18" fill="#717d95" stroke="#717d95" stroke-width=".25" text-anchor="middle">
<text x="96.1" y="781" textLength="59.5" lengthAdjust="spacingAndGlyphs">Jan '21</text>
<text x="220.3" y="781" textLength="53.2" lengthAdjust="spacingAndGlyphs">Jul '21</text>
<text x="346.3" y="781" textLength="61.7" lengthAdjust="spacingAndGlyphs">Jan '22</text>
<text x="470" y="781" textLength="56" lengthAdjust="spacingAndGlyphs">Jul '22</text>
<text x="596" y="781" textLength="61.9" lengthAdjust="spacingAndGlyphs">Jan '23</text>
<text x="720.2" y="781" textLength="56" lengthAdjust="spacingAndGlyphs">Jul '23</text>
<text x="846.3" y="781" textLength="61.7" lengthAdjust="spacingAndGlyphs">Jan '24</text>
<text x="971.1" y="781" textLength="55.9" lengthAdjust="spacingAndGlyphs">Jul '24</text>
<text x="1097.1" y="781" textLength="61.7" lengthAdjust="spacingAndGlyphs">Jan '25</text>
<text x="1221.2" y="781" textLength="56.4" lengthAdjust="spacingAndGlyphs">Jul '25</text>
<text x="1347.1" y="781" textLength="62.4" lengthAdjust="spacingAndGlyphs">Jan '26</text>
</g>
<rect x="3.3" y="838.4" width="1401.2" height="6" fill="#eff3fd"/>
<g stroke="#dde3f0" stroke-width="1">
<path d="M95.5 838.3V844"/>
<path d="M219.5 838.3V844"/>
<path d="M345.5 838.3V844"/>
<path d="M469.7 838.3V844"/>
<path d="M595.7 838.3V844"/>
<path d="M719.8 838.3V844"/>
<path d="M845.7 838.3V844"/>
<path d="M970.2 838.3V844"/>
<path d="M1096.4 838.3V844"/>
<path d="M1220.4 838.3V844"/>
<path d="M1346.5 838.3V844"/>
</g>
<circle cx="208.9" cy="323.9" r="19.1" fill="#4a6cf7" stroke="#fff" stroke-opacity=".55" stroke-width="1"/>
<g transform="translate(208.9 323.9)" fill="none" stroke="#fff" stroke-width="2" stroke-linecap="round" stroke-linejoin="round"><path d="M-4.7 -11.2V8.4M-7.6 8.6H-1.9M-4.7 -9.2C-1 -9.2 4 -7 8.7 -6.2V2.8C4 2 -1 0 -4.7 -0.2"/></g>
<circle cx="208.9" cy="291.2" r="19.1" fill="#16c784" stroke="#fff" stroke-opacity=".55" stroke-width="1"/>
<g transform="translate(208.9 291.2)" fill="none" stroke="#fff" stroke-width="2.1" stroke-linejoin="miter"><path d="M-6.7 -9.7H2.2L8.1 -3.8V8.8H-6.7Z"/><path d="M2.2 -9.7V-3.8H8.1" stroke-width="1.5"/><path d="M-3.4 1.2H4.8M-3.4 4.9H4.8" stroke-width="2"/></g>
<circle cx="208.9" cy="257.7" r="19.1" fill="#4a6cf7" stroke="#fff" stroke-opacity=".55" stroke-width="1"/>
<g transform="translate(208.9 257.7)" fill="none" stroke="#fff" stroke-width="2" stroke-linecap="round" stroke-linejoin="round"><path d="M-4.7 -11.2V8.4M-7.6 8.6H-1.9M-4.7 -9.2C-1 -9.2 4 -7 8.7 -6.2V2.8C4 2 -1 0 -4.7 -0.2"/></g>
<circle cx="431" cy="429.6" r="19.1" fill="#4a6cf7" stroke="#fff" stroke-opacity=".55" stroke-width="1"/>
<g transform="translate(431 429.6)" fill="none" stroke="#fff" stroke-width="2" stroke-linecap="round" stroke-linejoin="round"><path d="M-4.7 -11.2V8.4M-7.6 8.6H-1.9M-4.7 -9.2C-1 -9.2 4 -7 8.7 -6.2V2.8C4 2 -1 0 -4.7 -0.2"/></g>
<circle cx="431" cy="396" r="19.1" fill="#16c784" stroke="#fff" stroke-opacity=".55" stroke-width="1"/>
<g transform="translate(431 396)" fill="none" stroke="#fff" stroke-width="2.1" stroke-linejoin="miter"><path d="M-6.7 -9.7H2.2L8.1 -3.8V8.8H-6.7Z"/><path d="M2.2 -9.7V-3.8H8.1" stroke-width="1.5"/><path d="M-3.4 1.2H4.8M-3.4 4.9H4.8" stroke-width="2"/></g>
<circle cx="1355.8" cy="550.8" r="19.1" fill="#16c784" stroke="#fff" stroke-opacity=".55" stroke-width="1"/>
<g transform="translate(1355.8 550.8)" fill="none" stroke="#fff" stroke-width="2.1" stroke-linejoin="miter"><path d="M-6.7 -9.7H2.2L8.1 -3.8V8.8H-6.7Z"/><path d="M2.2 -9.7V-3.8H8.1" stroke-width="1.5"/><path d="M-3.4 1.2H4.8M-3.4 4.9H4.8" stroke-width="2"/></g>
<circle cx="863" cy="506.2" r="18.8" fill="#f5b97f"/>
<g stroke="#fff" stroke-width="1.7" stroke-linecap="round"><path d="M863 502V512.8"/><circle cx="863" cy="498.4" r=".6" fill="#fff"/></g>
<path d="M4.2 813.8L13.5 803.6Q20.5 794.1 32.5 794.1H49.3A19.8 19.8 0 0 1 49.3 833.7H32.5Q20.5 833.7 13.5 824Z" fill="#a6b0c3"/>
<g fill="none" stroke="#fff" stroke-width="2" stroke-linecap="round" stroke-linejoin="round"><path d="M23.6 812.2A8 8 0 1 1 25.4 819.2"/><path d="M31.5 808.6V813.8L35.4 816"/></g>
<path d="M20.9 809.8L26.2 811.2L22.6 815.2Z" fill="#fff"/>
<text x="48.6" y="820" font-size="19" fill="#fff">2</text>
<path d="M1327.2 794.5L1333.1 788.2L1339 794.5Z" fill="#3861fb"/>
<rect x="1260.8" y="793.9" width="143.5" height="39.9" rx="19.95" fill="#3861fb"/>
<g fill="none" stroke="#fff" stroke-width="2" stroke-linecap="round" stroke-linejoin="round"><path d="M1277.2 821.2A10 10 0 1 1 1294.3 813.2C1294.3 815.2 1293.4 816.2 1292.3 816.2C1291.2 816.2 1290.5 815.3 1290.5 813.8V811C1290.5 809.6 1289.8 809 1289 809C1288.2 809 1287.6 809.6 1287 810.6L1284.2 815.6V810.8C1284.2 809.4 1283.5 808.8 1282.7 808.8C1281.9 808.8 1281.3 809.4 1280.7 810.4L1276.6 817.6"/><path d="M1277.2 821.2L1274.6 824.6C1278 824.6 1280 824 1281.6 823.2C1285 824.4 1288.6 823.6 1291 821.4"/></g>
<text x="1301.8" y="819.9" font-size="18" fill="#fff" stroke="#fff" stroke-width=".35" textLength="68" lengthAdjust="spacingAndGlyphs">Analyze</text>
<path d="M1379.6 808.6L1385.8 814.7L1379.6 820.8" fill="none" stroke="#fff" stroke-width="1.8" stroke-linecap="round" stroke-linejoin="round"/>
</svg>
</body>
</html>
